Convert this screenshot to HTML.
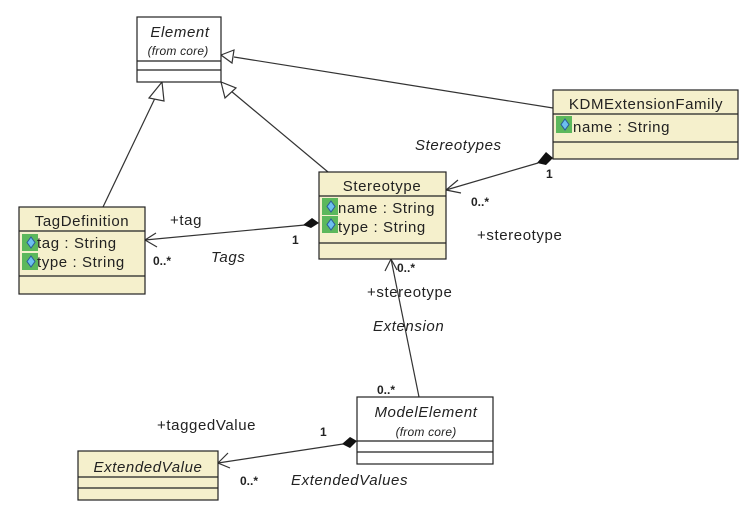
<!DOCTYPE html>
<html><head><style>body{margin:0;background:#fff}svg{display:block}text{font-family:"Liberation Sans",sans-serif;fill:#222}</style></head><body>
<svg width="751" height="514" viewBox="0 0 751 514" xmlns="http://www.w3.org/2000/svg">
<defs>
<g id="ic"><rect x="0" y="0" width="16" height="17" fill="#5cb85c"/><path d="M9 3 L13 8.5 L9 14 L5 8.5 Z" fill="#6cc0ef" stroke="#2a5a9a" stroke-width="1"/></g>
</defs>
<g stroke="#333" stroke-width="1.2" fill="none">
<line x1="103" y1="207" x2="157" y2="94"/>
<line x1="328" y1="172" x2="231" y2="91"/>
<line x1="553" y1="108" x2="234" y2="57"/>
<line x1="538" y1="163" x2="446" y2="190"/>
<line x1="305" y1="225" x2="145" y2="240"/>
<line x1="419" y1="397" x2="391" y2="259"/>
<line x1="343" y1="444" x2="218" y2="463"/>
<polyline points="458,180 446,190 461,193"/>
<polyline points="156,233 145,240 157,247"/>
<polyline points="385,271 391,259 397,270"/>
<polyline points="228,453 218,463 230,468"/>
</g>
<g stroke="#333" stroke-width="1.2" fill="#fff">
<polygon points="162,82 149,98 164,101"/>
<polygon points="221,82 225,98 236,88"/>
<polygon points="221,55 234,50 232,63"/>
</g>
<g fill="#111">
<polygon points="553,158 546,152 537,163 546,165"/>
<polygon points="319,223 312,218 303,225 311,228"/>
<polygon points="357,441 350,437 342,444 350,448"/>
</g>
<g stroke="#222" stroke-width="1.2">
<rect x="137" y="17" width="84" height="65" fill="#fff"/>
<line x1="137" y1="61" x2="221" y2="61"/><line x1="137" y1="70" x2="221" y2="70"/>
<rect x="19" y="207" width="126" height="87" fill="#f5f0cc"/>
<line x1="19" y1="231" x2="145" y2="231"/><line x1="19" y1="276" x2="145" y2="276"/>
<rect x="319" y="172" width="127" height="87" fill="#f5f0cc"/>
<line x1="319" y1="196" x2="446" y2="196"/><line x1="319" y1="243" x2="446" y2="243"/>
<rect x="553" y="90" width="185" height="69" fill="#f5f0cc"/>
<line x1="553" y1="114" x2="738" y2="114"/><line x1="553" y1="142" x2="738" y2="142"/>
<rect x="357" y="397" width="136" height="67" fill="#fff"/>
<line x1="357" y1="441" x2="493" y2="441"/><line x1="357" y1="452" x2="493" y2="452"/>
<rect x="78" y="451" width="140" height="49" fill="#f5f0cc"/>
<line x1="78" y1="477" x2="218" y2="477"/><line x1="78" y1="488" x2="218" y2="488"/>
</g>
<use href="#ic" x="22" y="234"/><use href="#ic" x="22" y="253"/>
<use href="#ic" x="322" y="198"/><use href="#ic" x="322" y="216"/>
<use href="#ic" x="556" y="116"/>
<g font-size="15" letter-spacing="0.6">
<text x="180" y="37" text-anchor="middle" font-style="italic">Element</text>
<text x="178" y="55" text-anchor="middle" font-style="italic" font-size="12" letter-spacing="0.2">(from core)</text>
<text x="82" y="226" text-anchor="middle">TagDefinition</text>
<text x="37" y="248">tag : String</text>
<text x="37" y="267">type : String</text>
<text x="382" y="191" text-anchor="middle">Stereotype</text>
<text x="338" y="213">name : String</text>
<text x="338" y="232">type : String</text>
<text x="646" y="109" text-anchor="middle">KDMExtensionFamily</text>
<text x="573" y="132">name : String</text>
<text x="426" y="417" text-anchor="middle" font-style="italic">ModelElement</text>
<text x="426" y="436" text-anchor="middle" font-style="italic" font-size="12" letter-spacing="0.2">(from core)</text>
<text x="148" y="472" text-anchor="middle" font-style="italic">ExtendedValue</text>
<text x="415" y="150" font-style="italic">Stereotypes</text>
<text x="477" y="240">+stereotype</text>
<text x="170" y="225">+tag</text>
<text x="211" y="262" font-style="italic">Tags</text>
<text x="367" y="297">+stereotype</text>
<text x="373" y="331" font-style="italic">Extension</text>
<text x="157" y="430">+taggedValue</text>
<text x="291" y="485" font-style="italic">ExtendedValues</text>
</g>
<g font-size="12" font-weight="bold">
<text x="546" y="178">1</text>
<text x="471" y="206">0..*</text>
<text x="292" y="244">1</text>
<text x="153" y="265">0..*</text>
<text x="397" y="272">0..*</text>
<text x="377" y="394">0..*</text>
<text x="320" y="436">1</text>
<text x="240" y="485">0..*</text>
</g>
</svg>
</body></html>
